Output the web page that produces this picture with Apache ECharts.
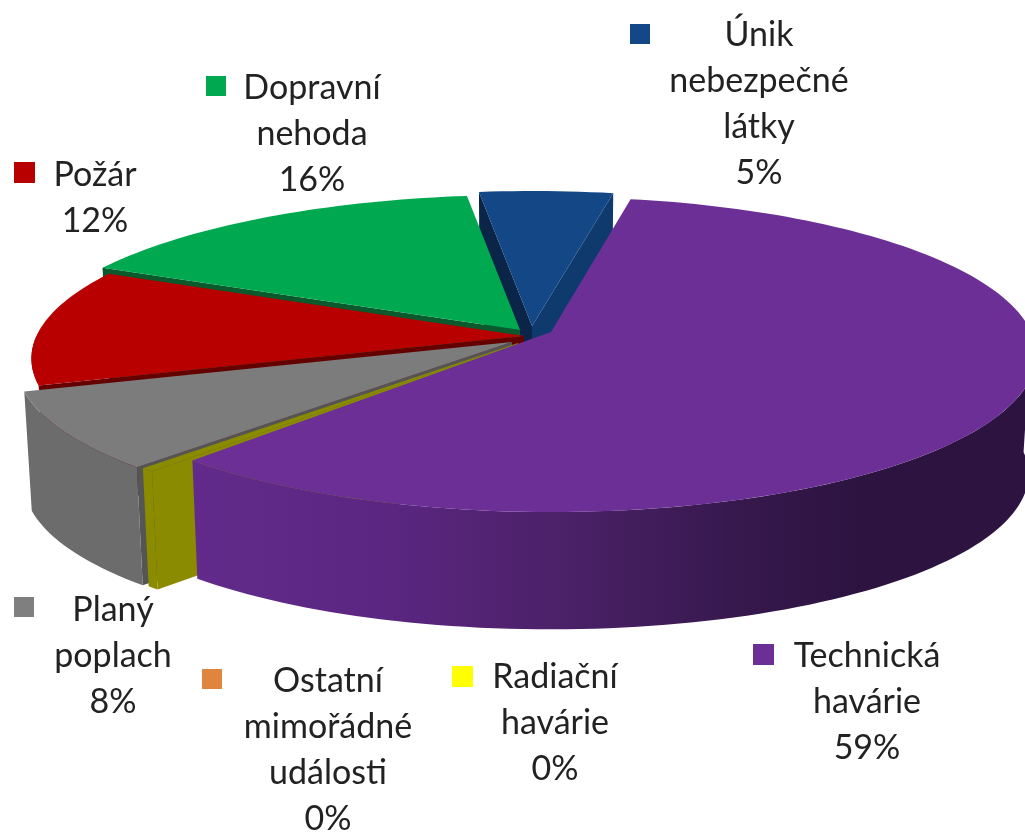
<!DOCTYPE html>
<html>
<head>
<meta charset="utf-8">
<style>html,body{margin:0;padding:0;background:#fff}#c{width:1025px;height:832px}</style>
<script src="https://cdn.jsdelivr.net/npm/echarts@6/dist/echarts.min.js"></script>
</head>
<body>
<div id="c"></div>
<script>
// ---- data ----
const categories = ['Technická\nhavárie', 'Radiační\nhavárie', 'Ostatní\nmimořádné\nudálosti', 'Planý\npoplach', 'Požár', 'Dopravní\nnehoda', 'Únik\nnebezpečné\nlátky'];
const values = [58.6, 0.4, 0, 8, 12, 16, 5];

// ---- style ----
const legendColors = ['#6B2F96', '#FFFF00', '#E0853D', '#7F7F7F', '#B80000', '#00A84F', '#134785'];
const topColors = ['#6B2F96', '#8B8B00', '#E0853D', '#7C7C7C', '#B80000', '#00A84F', '#134785'];
const outerColors = [null, '#8B8B00', '#E0853D', '#6C6C6C', '#9E0000', '#007A3A', '#0F3A6E'];
const startWallColors = ['#4A2069', '#8B8B00', '#E0853D', '#555555', '#640000', '#0B5A2E', '#0B2548'];
const endWallColors = ['#4A2069', '#8B8B00', '#E0853D', '#555555', '#640000', '#0B5A2E', '#0F3A6E'];
const shiftX = [28, -5, 0, -11, 1, -3, 9];
const shiftY = [0, 11, 0, 10, 4, -2, -6];
const rimScale = [0.98, 1, 1, 1, 0.995, 1, 1];
const paintOrder = [6, 5, 4, 3, 2, 1, 0];

// ---- pie projection ----
const PIE = { cx: 523, cy: 332, rx: 490, ry: 154.3, k: 0.143, startDeg: 10.9, drop: 120, bottomScale: 0.985 };
const total = values.reduce((a, b) => a + b, 0);
const rad = d => d * Math.PI / 180;

function rimTop(deg, i) {
  const u = Math.sin(rad(deg)), v = -Math.cos(rad(deg)), w = 1 - PIE.k * v;
  return [PIE.cx + PIE.rx * rimScale[i] * u / w + shiftX[i], PIE.cy + PIE.ry * v / w + shiftY[i]];
}
const apexTop = i => [PIE.cx + shiftX[i], PIE.cy + shiftY[i]];
const lower = p => [PIE.cx + PIE.bottomScale * (p[0] - PIE.cx), PIE.cy + PIE.bottomScale * (p[1] - PIE.cy) + PIE.drop];

function arc(a, b, i) {
  const pts = [], n = Math.max(2, Math.ceil((b - a) / 1.5));
  for (let s = 0; s <= n; s++) pts.push(rimTop(a + (b - a) * s / n, i));
  return pts;
}

function renderSlice(params) {
  const i = params.dataIndex;
  const span = values[i] / total * 360;
  if (!span) return null;
  const before = values.slice(0, i).reduce((a, b) => a + b, 0);
  const a = PIE.startDeg + before / total * 360, b = a + span;
  const order = paintOrder.indexOf(i) * 10;
  const kids = [];
  const apex = apexTop(i);
  const wall = (rimPt, fill, z) => kids.push({
    type: 'polygon', z2: order + z, silent: true,
    shape: { points: [apex, rimPt, lower(rimPt), lower(apex)] },
    style: { fill }
  });
  if (-Math.sin(rad(a)) > 0) wall(rimTop(a, i), startWallColors[i], 1);
  if (Math.sin(rad(b)) > 0) wall(rimTop(b, i), endWallColors[i], 2);

  // outer curved wall: only the part that faces the viewer
  const from = Math.max(a, 90), to = Math.min(b, 270);
  if (to > from) {
    const rim = arc(from, to, i);
    let fill = outerColors[i];
    if (!fill) {
      fill = new echarts.graphic.LinearGradient(195, 0, 860, 0, [
        { offset: 0, color: '#622B8B' },
        { offset: 0.3, color: '#5A2680' },
        { offset: 0.55, color: '#4B2168' },
        { offset: 0.8, color: '#38194F' },
        { offset: 1, color: '#2C1340' }
      ], true);
    }
    kids.push({
      type: 'polygon', z2: order + 3, silent: true,
      shape: { points: rim.concat(rim.map(lower).reverse()) },
      style: { fill }
    });
  }
  kids.push({
    type: 'polygon', z2: order + 4, silent: true,
    shape: { points: [apex].concat(arc(a, b, i)) },
    style: { fill: topColors[i] }
  });
  return { type: 'group', children: kids };
}

// ---- labels ----
const FONT = 'Lato, "Open Sans", sans-serif';
const labelBoxes = [
  { kx: 753, ky: 644, ks: 21, tx: 867, ty: 656 },
  { kx: 452, ky: 666, ks: 21, tx: 555, ty: 677 },
  { kx: 202, ky: 669, ks: 20, tx: 328, ty: 681 },
  { kx: 14, ky: 597, ks: 20, tx: 113, ty: 610 },
  { kx: 14, ky: 162, ks: 21, tx: 95, ty: 175 },
  { kx: 206, ky: 76, ks: 20, tx: 312, ty: 88 },
  { kx: 630, ky: 24, ks: 20, tx: 759, ty: 35 }
];
const LINE = 46;
const graphics = [];
categories.forEach((name, i) => {
  const b = labelBoxes[i];
  graphics.push({ type: 'rect', shape: { x: b.kx, y: b.ky, width: b.ks, height: b.ks }, style: { fill: legendColors[i] } });
  graphics.push({
    type: 'text', x: b.tx, y: b.ty - LINE / 2,
    style: {
      text: name + '\n' + Math.round(values[i] / total * 100) + '%',
      fill: '#222', font: '34px ' + FONT, lineHeight: LINE, align: 'center', verticalAlign: 'top'
    }
  });
});

const chart = echarts.init(document.getElementById('c'), null, { renderer: 'canvas' });
chart.setOption({
  animation: false,
  backgroundColor: '#fff',
  graphic: { elements: graphics },
  series: [{
    type: 'custom',
    coordinateSystem: 'none',
    renderItem: renderSlice,
    data: categories.map((c, i) => ({ name: c, value: values[i] })),
    silent: true
  }]
});
</script>
</body>
</html>
